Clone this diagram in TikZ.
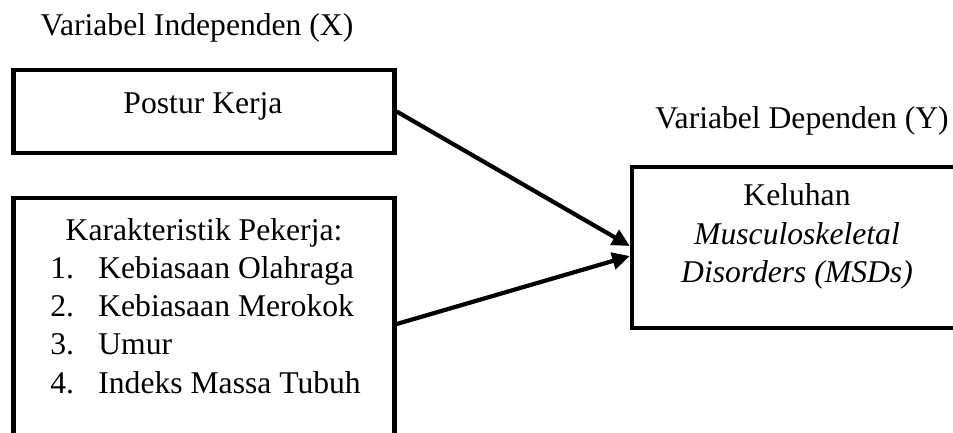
\documentclass[tikz,border=0pt]{standalone}
\usepackage{fontspec}
\setmainfont{Liberation Serif}
\usetikzlibrary{arrows.meta}

\begin{document}
\begin{tikzpicture}[x=0.2mm, y=-0.2mm,
  box/.style={draw, line width=2.5pt, rectangle, inner sep=0pt},
  txt/.style={font=\fontsize{18}{21.6}\selectfont, inner sep=0pt},
  link/.style={-{Triangle[length=10pt, width=9.5pt]}, line width=2.4pt}]
  \useasboundingbox[clip] (0,0) rectangle (953,432);
  % kotak variabel
  \node[box, minimum width=76.2mm, minimum height=16.6mm] (postur) at (204,111.5) {};
  \node[box, minimum width=76.2mm, minimum height=50.4mm] (karakter) at (204,324) {};
  \node[box, minimum width=65.6mm, minimum height=32.2mm] (keluhan) at (796,247.5) {};
  % judul
  \node[txt, anchor=base] (judulx) at (197,35) {Variabel Independen (X)};
  \node[txt, anchor=base] (juduly) at (802,128) {Variabel Dependen (Y)};
  % isi kotak
  \node[txt, anchor=base] (posturtxt) at (203,113) {Postur Kerja};
  \node[txt, anchor=base] (kartxt) at (204,240) {Karakteristik Pekerja:};
  \foreach \i/\nama in {1/Kebiasaan Olahraga, 2/Kebiasaan Merokok, 3/Umur, 4/Indeks Massa Tubuh} {
    \node[txt, anchor=base west] (no\i) at (50,240+38.3*\i) {\i.};
    \node[txt, anchor=base west] (item\i) at (98,240+38.3*\i) {\nama};
  }
  \node[txt, anchor=base] (keltxt) at (797,205) {Keluhan};
  \node[txt, anchor=base] (msdtxt) at (797,244) {\textit{Musculoskeletal}};
  \node[txt, anchor=base] (distxt) at (797,282) {\textit{Disorders (MSDs)}};
  % panah
  \draw[link] (postur.east) -- ([yshift=0.3mm]keluhan.west);
  \draw[link] (karakter.east) -- ([yshift=-1.7mm]keluhan.west);
\end{tikzpicture}
\end{document}
